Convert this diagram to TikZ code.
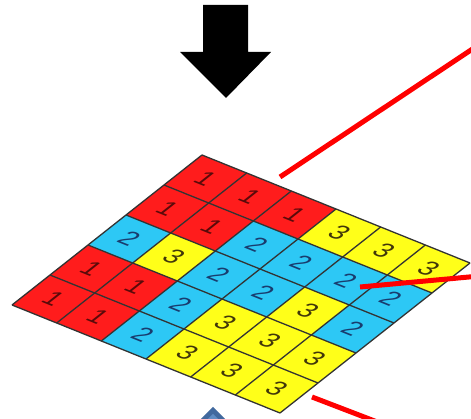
\documentclass[tikz,border=0pt]{standalone}
\usepackage{fontspec}
\setmainfont{Liberation Sans}
\definecolor{col1}{RGB}{255,28,28}
\definecolor{col2}{RGB}{45,200,245}
\definecolor{col3}{RGB}{255,255,25}
\definecolor{txt1}{RGB}{90,10,10}
\definecolor{txt2}{RGB}{25,60,110}
\definecolor{txt3}{RGB}{65,55,10}
\definecolor{arrowblue}{RGB}{65,105,158}
\definecolor{arrowblueL}{RGB}{95,140,195}
\tikzset{
  gridline/.style={draw=black!80, line width=1.3pt},
  redline/.style={draw=red, line width=5pt},
  digit/.style={font=\fontsize{26}{26}\selectfont, inner sep=0pt,
    cm={0.930,-0.375,0.792,0.625,(0,0)}},
}
\begin{document}
\begin{tikzpicture}[x=1pt,y=1pt]
\useasboundingbox (0,0) rectangle (471,419);
\clip (0,0) rectangle (471,419);
% black down arrow
\fill[black] (203,414) -- (248,414) -- (248,367) -- (271,367) -- (226,321) -- (180,367) -- (203,367) -- cycle;
% grid of tiles
\begin{scope}[shift={(12,114)}]
\begin{scope}[x={(44.667pt,-18pt)}, y={(38pt,30pt)}]
  \foreach \row [count=\j from 0] in {{1,1,1,3,3,3},{1,1,2,2,2,2},{2,3,2,2,3,2},{1,1,2,3,3,3},{1,1,2,3,3,3}} {
    \foreach \v [count=\i from 0] in \row {
      \fill[col\v] (\i,4-\j) -- ++(1,0) -- ++(0,1) -- ++(-1,0) -- cycle;
    }
  }
  \foreach \a in {0,...,6} { \draw[gridline] (\a,0) -- (\a,5); }
  \foreach \b in {0,...,5} { \draw[gridline] (0,\b) -- (6,\b); }
  \foreach \row [count=\j from 0] in {{1,1,1,3,3,3},{1,1,2,2,2,2},{2,3,2,2,3,2},{1,1,2,3,3,3},{1,1,2,3,3,3}} {
    \foreach \v [count=\i from 0] in \row {
      \node[digit, text=txt\v] (c-\i-\j) at (\i+0.5,4-\j+0.5) {\v};
    }
  }
\end{scope}
\end{scope}
% red lines
\coordinate (r1a) at (280,242);
\coordinate (r1b) at (480,375);
\coordinate (r2a) at (360,132);
\coordinate (r2b) at (480,143);
\coordinate (r3a) at (312,22);
\coordinate (r3b) at (385,-6);
\draw[redline] (r1a) -- (r1b);
\draw[redline] (r2a) -- (r2b);
\draw[redline] (r3a) -- (r3b);
% blue shape at bottom
\fill[arrowblue] (213,12) -- (198,-3) -- (228,-3) -- cycle;
\fill[arrowblueL] (213,5) -- (205,-3) -- (221,-3) -- cycle;
\end{tikzpicture}
\end{document}
